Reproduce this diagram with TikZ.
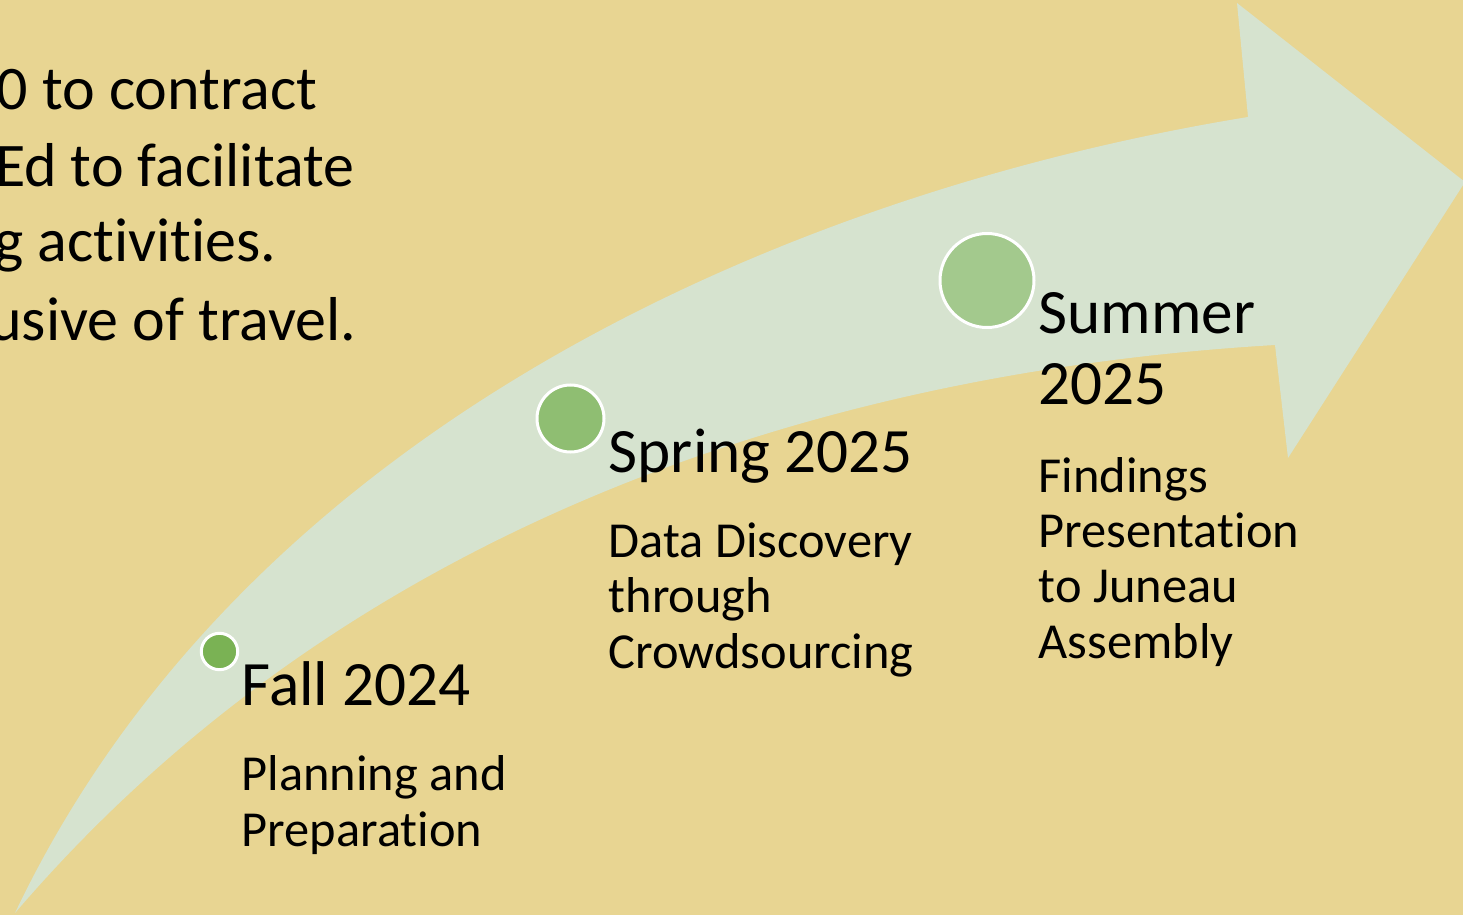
\documentclass[tikz,border=0pt]{standalone}
\usepackage{fontspec}
\setmainfont{Carlito}[Ligatures={NoCommon,NoRequired,NoContextual},Contextuals=NoAlternate]

\definecolor{bgtan}{RGB}{232,213,146}
\definecolor{arrowgreen}{RGB}{214,227,207}
\definecolor{dotfall}{RGB}{122,178,84}
\definecolor{dotspring}{RGB}{143,190,114}
\definecolor{dotsummer}{RGB}{163,201,141}

\tikzset{every picture/.style={line width=0.75pt}}
\tikzset{
	stagedot/.style={circle, draw=white, line width=1.5pt, inner sep=0pt},
	stagehead/.style={anchor=base west, inner sep=0pt, align=left, font=\fontsize{31.6}{35.5}\selectfont},
	stagetext/.style={anchor=base west, inner sep=0pt, align=left, font=\fontsize{25.2}{27.6}\selectfont},
	sidetext/.style={anchor=base east, inner sep=0pt, font=\fontsize{31}{38.5}\selectfont}
}

\begin{document}
\begin{tikzpicture}[x=0.5pt,y=0.5pt,yscale=-1,xscale=1]
	\useasboundingbox (0,0) rectangle (1463,915);

	%Shape: Rectangle [background]
	\fill [bgtan] (0,0) rectangle (1463,915);

	%Shape: Curved Arrow
	\fill [arrowgreen] (15,913) .. controls (250,420) and (800,190) .. (1248,117)
		-- (1237,3) -- (1465,182) -- (1288,458) -- (1275,345)
		.. controls (850,370) and (360,510) .. (15,913) -- cycle ;

	% Text Node
	\node [sidetext] (linea) at (318,110) {0 to contract};
	% Text Node
	\node [sidetext] (lineb) at (355,187) {Ed to facilitate};
	% Text Node
	\node [sidetext] (linec) at (277,262) {g activities.};
	% Text Node
	\node [sidetext] (lined) at (357,340) {usive of travel.};

	%Shape: Circle
	\node [stagedot, fill=dotfall, minimum size=18.2pt] (dotfall) at (219.5,651.5) {};
	%Shape: Circle
	\node [stagedot, fill=dotspring, minimum size=33.5pt] (dotspring) at (570.5,418.5) {};
	%Shape: Circle
	\node [stagedot, fill=dotsummer, minimum size=47pt] (dotsummer) at (987,280.5) {};

	% Text Node (base = last line)
	\node [stagehead] (headfall) at (241,705) {Fall 2024};
	% Text Node
	\node [stagetext] (textfall) at (241,846) {Planning and\\Preparation};
	% Text Node
	\node [stagehead] (headspring) at (608,472) {Spring 2025};
	% Text Node
	\node [stagetext] (textspring) at (608,668) {Data Discovery\\through\\Crowdsourcing};
	% Text Node
	\node [stagehead] (headsummer) at (1038,404) {Summer\\2025};
	% Text Node
	\node [stagetext] (textsummer) at (1038,658) {Findings\\Presentation\\to Juneau\\Assembly};

\end{tikzpicture}
\end{document}
